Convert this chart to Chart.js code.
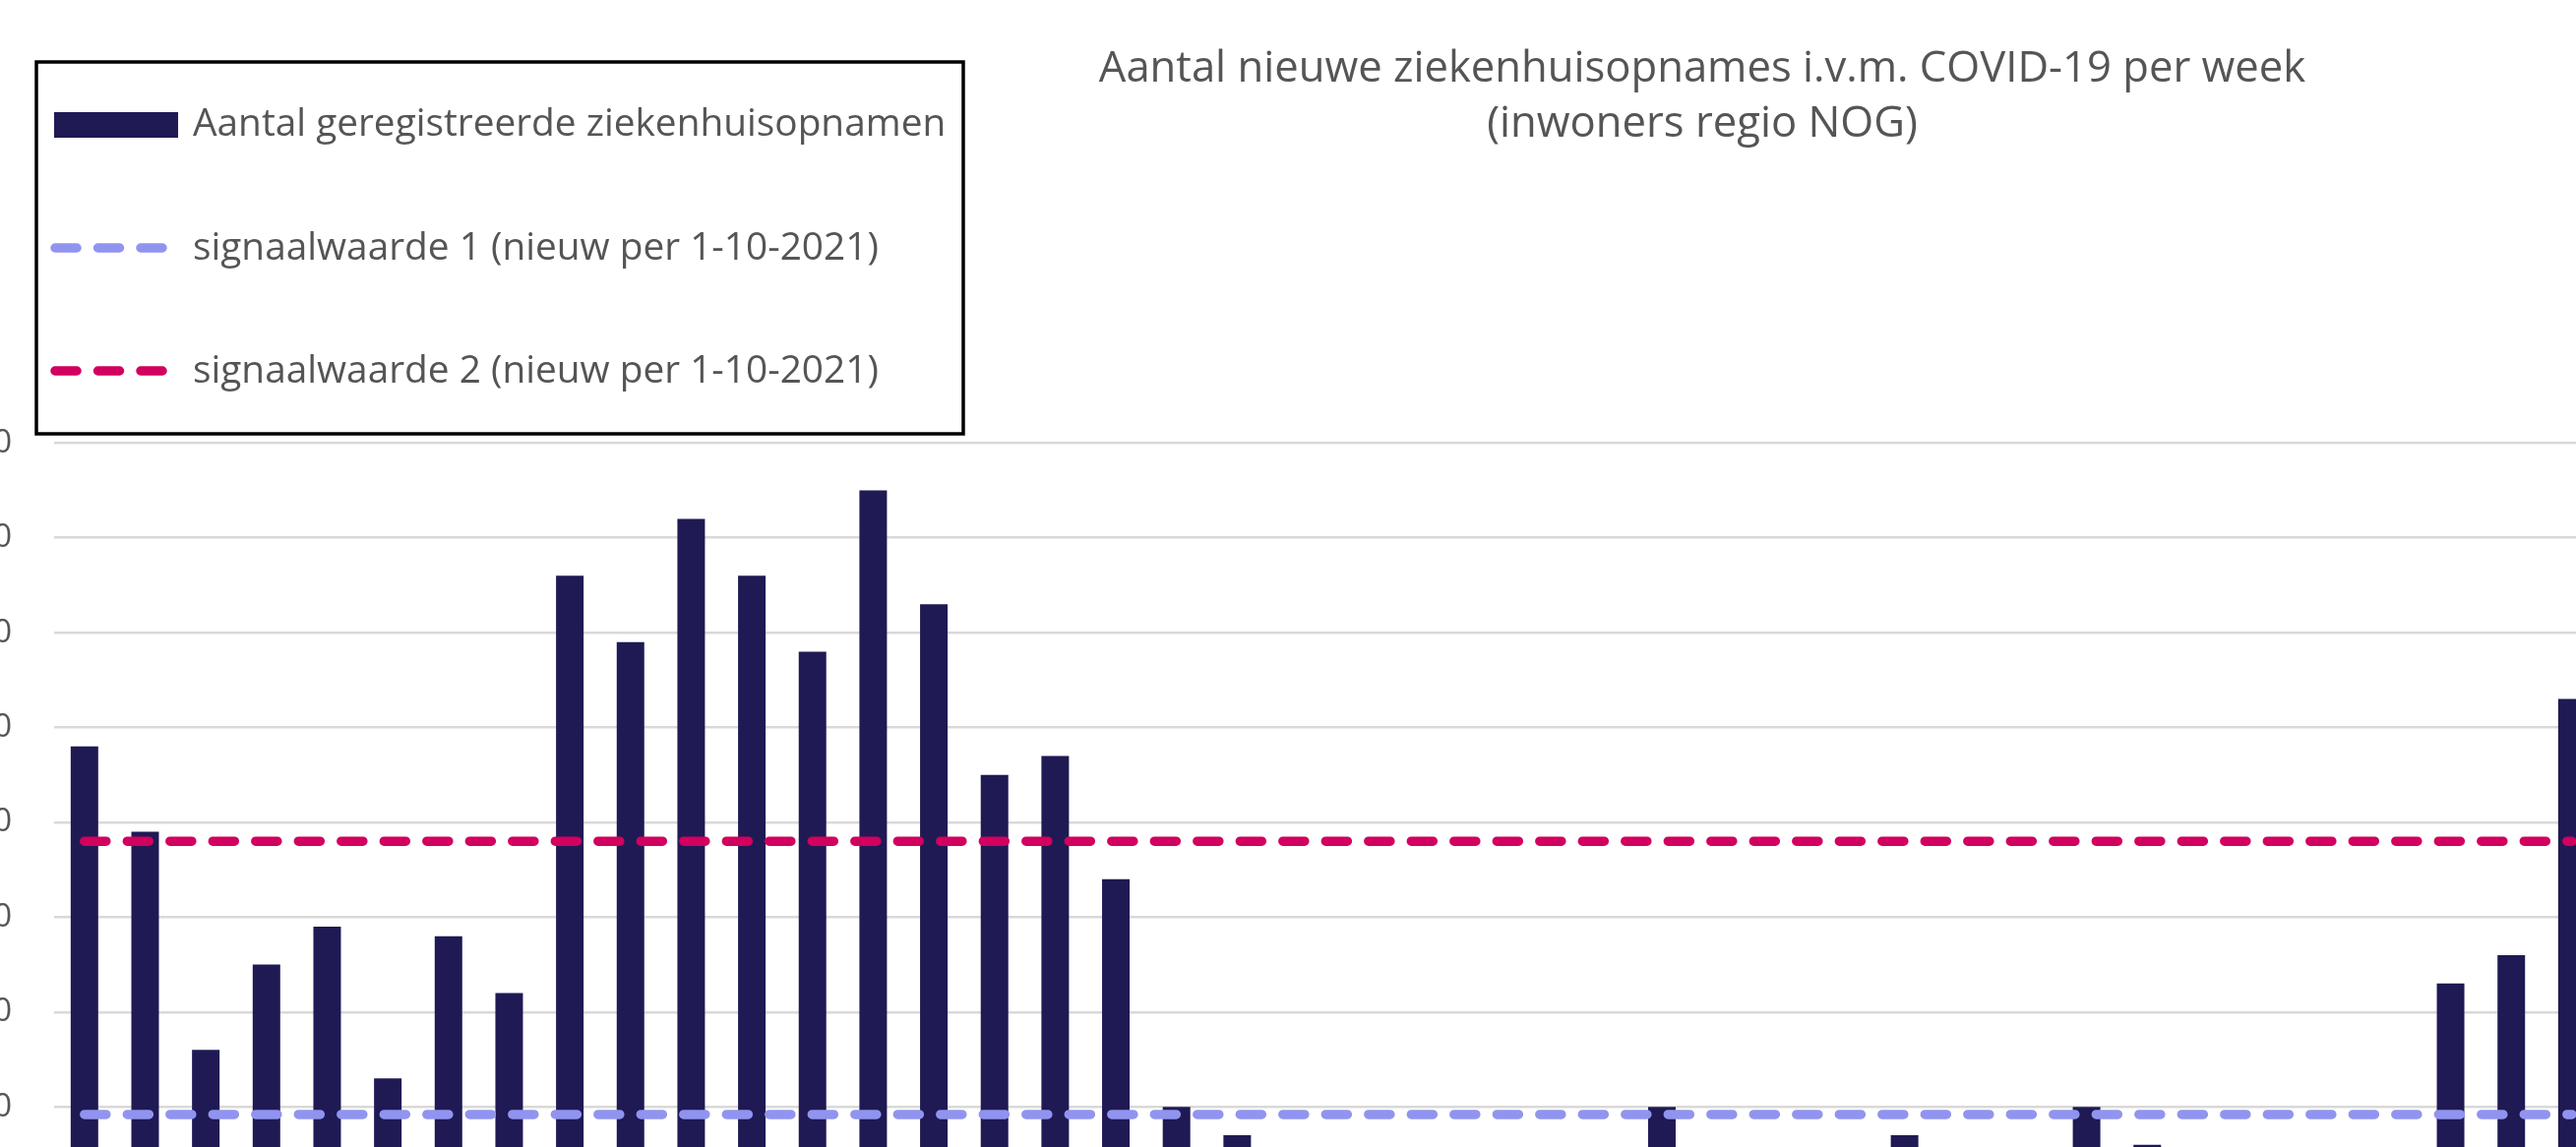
<!DOCTYPE html>
<html>
<head>
<meta charset="utf-8">
<script src="https://cdn.jsdelivr.net/npm/chart.js@4.4.1/dist/chart.umd.min.js"></script>
<style>
  html, body { margin: 0; padding: 0; overflow: hidden; background: #ffffff; width: 2618px; height: 1166px; }
  #wrap { position: absolute; left: -60px; top: 0; width: 2760px; height: 1300px; }
  canvas { display: block; }
</style>
</head>
<body>
<div id="wrap"><canvas id="chart" width="2760" height="1300"></canvas></div>
<script>
// ---- data ----
const weeks = [
  "wk 3","wk 4","wk 5","wk 6","wk 7","wk 8","wk 9","wk 10","wk 11","wk 12",
  "wk 13","wk 14","wk 15","wk 16","wk 17","wk 18","wk 19","wk 20","wk 21","wk 22",
  "wk 23","wk 24","wk 25","wk 26","wk 27","wk 28","wk 29","wk 30","wk 31","wk 32",
  "wk 33","wk 34","wk 35","wk 36","wk 37","wk 38","wk 39","wk 40","wk 41","wk 42",
  "wk 43","wk 44"
];
const admissions = [
  48, 39, 16, 25, 29, 13, 28, 22, 66, 59,
  72, 66, 58, 75, 63, 45, 47, 34, 10, 7,
  4, 3, 2, 2, 3, 4, 10, 5, 4, 4,
  7, 5, 4, 10, 6, 4, 3, 4, 5, 23,
  26, 53
];
const signalValue1 = 9.2;
const signalValue2 = 38;
const yTickValues = [0, 10, 20, 30, 40, 50, 60, 70, 80];

const titleLines = ["Aantal nieuwe ziekenhuisopnames i.v.m. COVID-19 per week", "(inwoners regio NOG)"];
const seriesLabels = [
  "Aantal geregistreerde ziekenhuisopnamen",
  "signaalwaarde 1 (nieuw per 1-10-2021)",
  "signaalwaarde 2 (nieuw per 1-10-2021)"
];

// ---- styles ----
const OX = 60; // canvas offset (page x = canvas x - OX)
const BAR_COLOR = '#1f1a54';
const SIG1_COLOR = '#9194ef';
const SIG2_COLOR = '#d2005e';
const TEXT_COLOR = '#555555';
const FONT = '"Open Sans", "Noto Sans", sans-serif';
const LINE_W = 9.5;
const DASH = [22, 21.5];

const signal1Series = weeks.map(() => signalValue1);
const signal2Series = weeks.map(() => signalValue2);

const overlayPlugin = {
  id: 'overlay',
  afterDraw(chart) {
    const ctx = chart.ctx;
    ctx.save();
    // Title
    ctx.fillStyle = TEXT_COLOR;
    ctx.font = '43.6px ' + FONT;
    ctx.textAlign = 'center';
    ctx.textBaseline = 'alphabetic';
    ctx.fillText(titleLines[0], 1730 + OX, 83);
    ctx.fillText(titleLines[1], 1730 + OX, 139);

    // Legend box
    ctx.fillStyle = '#ffffff';
    ctx.fillRect(37 + OX, 63, 942, 378);
    ctx.strokeStyle = '#000000';
    ctx.lineWidth = 3.5;
    ctx.strokeRect(37 + OX, 63, 942, 378);

    const ds = chart.data.datasets;
    // bar swatch
    ctx.fillStyle = ds[0].backgroundColor;
    ctx.fillRect(55 + OX, 114, 126, 26);
    // dashed swatches
    const drawDash = (y, color) => {
      ctx.save();
      ctx.strokeStyle = color;
      ctx.lineWidth = LINE_W;
      ctx.lineCap = 'round';
      ctx.setLineDash(DASH);
      ctx.beginPath();
      ctx.moveTo(56 + OX, y);
      ctx.lineTo(165 + OX, y);
      ctx.stroke();
      ctx.restore();
    };
    drawDash(252, ds[1].borderColor);
    drawDash(377, ds[2].borderColor);

    ctx.fillStyle = TEXT_COLOR;
    ctx.font = '38.8px ' + FONT;
    ctx.textAlign = 'left';
    ctx.textBaseline = 'middle';
    ctx.fillText(ds[0].label, 196 + OX, 127);
    ctx.fillText(ds[1].label, 196 + OX, 253);
    ctx.fillText(ds[2].label, 196 + OX, 378);
    ctx.restore();
  }
};

new Chart(document.getElementById('chart'), {
  data: {
    labels: weeks,
    datasets: [
      {
        type: 'bar',
        label: seriesLabels[0],
        data: admissions,
        backgroundColor: BAR_COLOR,
        borderWidth: 0,
        categoryPercentage: 1,
        barPercentage: 0.454,
        order: 3
      },
      {
        type: 'line',
        label: seriesLabels[1],
        data: signal1Series,
        borderColor: SIG1_COLOR,
        backgroundColor: SIG1_COLOR,
        borderWidth: LINE_W,
        borderDash: DASH,
        borderCapStyle: 'round',
        pointRadius: 0,
        fill: false,
        order: 1
      },
      {
        type: 'line',
        label: seriesLabels[2],
        data: signal2Series,
        borderColor: SIG2_COLOR,
        backgroundColor: SIG2_COLOR,
        borderWidth: LINE_W,
        borderDash: DASH,
        borderCapStyle: 'round',
        pointRadius: 0,
        fill: false,
        order: 2
      }
    ]
  },
  options: {
    responsive: false,
    animation: false,
    devicePixelRatio: 1,
    layout: { padding: { top: 450.3, bottom: 78.4, left: 0, right: 55.3 } },
    plugins: { legend: { display: false }, title: { display: false }, tooltip: { enabled: false } },
    scales: {
      x: {
        display: false,
        offset: true
      },
      y: {
        min: 0,
        max: 80,
        afterFit(scale) { scale.width = 115; },
        afterBuildTicks(scale) { scale.ticks = yTickValues.map(v => ({ value: v })); },
        border: { display: false },
        grid: { color: '#d9d9d9', lineWidth: 2.5, drawTicks: false },
        ticks: {
          padding: 43,
          color: TEXT_COLOR,
          font: { family: FONT, size: 33 }
        }
      }
    }
  },
  plugins: [overlayPlugin]
});
</script>
</body>
</html>
